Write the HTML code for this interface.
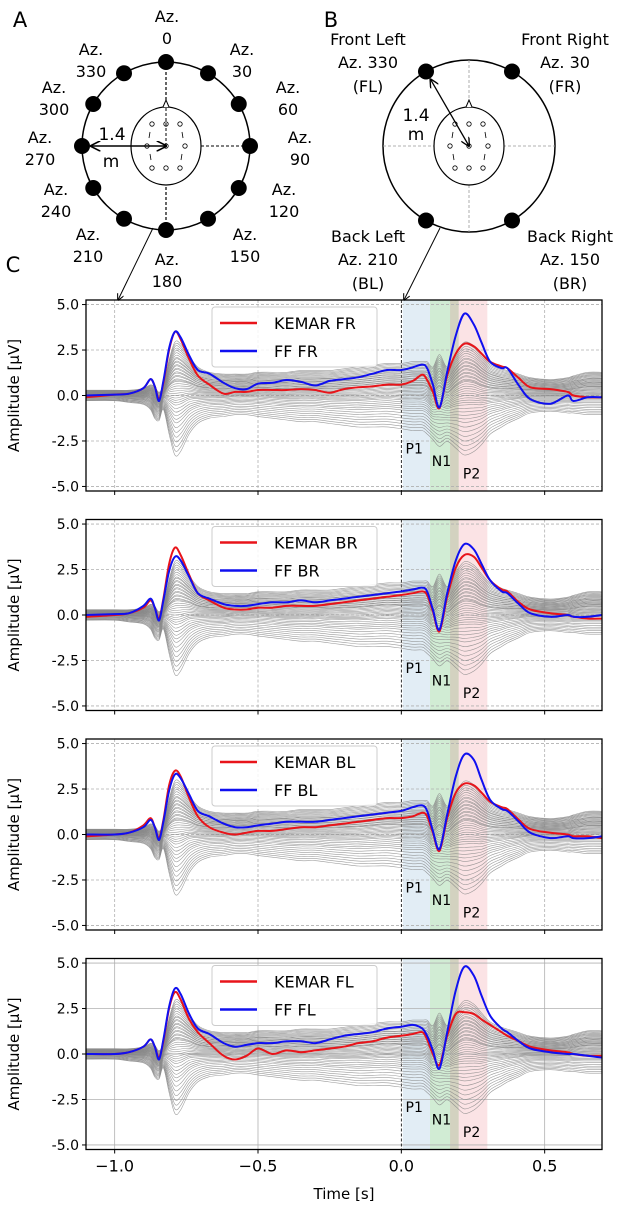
<!DOCTYPE html>
<html><head><meta charset="utf-8"><style>
html,body{margin:0;padding:0;background:#fff}
svg{display:block;font-family:"DejaVu Sans","Liberation Sans",sans-serif}
</style></head><body>
<svg id="fig" width="620" height="1212" viewBox="0 0 620 1212" xmlns="http://www.w3.org/2000/svg">
<defs>
<marker id="ah" viewBox="0 0 10 10" refX="9" refY="5" markerWidth="7" markerHeight="7" orient="auto-start-reverse"><path d="M0,0 L10,5 L0,10" fill="none" stroke="#000" stroke-width="1.5"/></marker>
</defs>
<g id="diagA"></g>
<g id="diagB"></g>
<g id="panels"></g>
</svg>
<script>
const T=[-1.1,-1.0,-0.95,-0.9,-0.875,-0.86,-0.845,-0.83,-0.81,-0.79,-0.77,-0.74,-0.71,-0.67,-0.62,-0.58,-0.54,-0.5,-0.45,-0.4,-0.35,-0.3,-0.25,-0.2,-0.15,-0.1,-0.05,0,0.04,0.073,0.09,0.11,0.133,0.16,0.19,0.22,0.253,0.28,0.31,0.35,0.37,0.41,0.45,0.52,0.58,0.6,0.65,0.7];
const panelLabels=["FR","BR","BL","FL"];
const blueFR=[0,0.05,0.1,0.4,0.9,0.5,-0.3,0.8,2.6,3.5,3.2,2.2,1.4,1.2,0.7,0.4,0.35,0.65,0.7,0.85,0.75,0.55,0.8,0.9,1.0,1.2,1.4,1.4,1.55,1.7,1.5,0.6,-0.65,1.3,3.3,4.5,3.9,2.9,1.85,1.5,1.5,0.55,-0.2,-0.45,0,-0.3,-0.1,-0.1];
const redFR=[-0.1,0.05,0.1,0.4,0.9,0.5,-0.2,0.7,2.5,3.5,3.1,2.0,1.1,0.6,0.1,0.2,0.2,0.3,0.3,0.3,0.35,0.3,0.15,0.35,0.45,0.5,0.6,0.6,0.8,1.15,0.85,0.2,-0.7,1.1,2.3,2.85,2.7,2.3,1.85,1.6,1.5,0.95,0.45,0.35,0.2,0,-0.1,-0.1];
const blueBR=[0,0.05,0.1,0.5,0.9,0.4,-0.3,0.8,2.4,3.2,3.0,2.1,1.2,0.9,0.6,0.5,0.5,0.6,0.7,0.7,0.8,0.7,0.8,0.9,1.0,1.1,1.2,1.3,1.4,1.5,1.3,0.3,-0.8,1.2,3.0,3.9,3.6,2.8,1.9,1.3,1.2,0.6,0.1,-0.1,0,-0.1,-0.1,0];
const redBR=[-0.1,0,0.1,0.4,0.8,0.4,-0.2,0.9,2.8,3.7,3.3,2.2,1.2,0.8,0.4,0.3,0.3,0.4,0.4,0.5,0.5,0.5,0.6,0.7,0.8,0.9,1.0,1.1,1.2,1.3,1.1,0.2,-0.9,1.0,2.6,3.3,3.2,2.6,1.9,1.4,1.3,0.7,0.3,0.1,0,-0.1,-0.2,-0.2];
const blueBL=[0,0,0.1,0.4,0.8,0.4,-0.3,0.7,2.4,3.3,3.1,2.2,1.3,1.0,0.6,0.4,0.4,0.5,0.6,0.7,0.7,0.7,0.8,0.9,1.0,1.1,1.2,1.3,1.5,1.6,1.3,0.2,-0.8,1.1,3.2,4.4,4.1,3.0,1.9,1.4,1.3,0.7,0.1,-0.2,-0.1,-0.2,-0.2,-0.1];
const redBL=[-0.1,0,0.1,0.5,0.9,0.4,-0.2,0.8,2.7,3.5,3.2,2.0,1.0,0.4,0.1,0,0.1,0.2,0.2,0.3,0.4,0.4,0.5,0.6,0.7,0.8,0.9,0.9,1.0,1.2,1.0,0.1,-0.9,0.9,2.3,2.8,2.7,2.3,1.8,1.5,1.4,0.8,0.3,0.1,0,-0.1,-0.1,-0.2];
const blueFL=[0,0,0.1,0.4,0.8,0.4,-0.3,0.8,2.6,3.6,3.3,2.2,1.4,1.1,0.6,0.4,0.5,0.6,0.6,0.7,0.7,0.6,0.8,1.0,1.1,1.2,1.4,1.5,1.6,1.4,1.0,0.2,-0.8,1.2,3.5,4.8,4.3,3.2,2.1,1.4,1.2,0.7,0.3,0.1,0,0,-0.1,-0.2];
const redFL=[0,0,0.1,0.4,0.8,0.4,-0.2,0.7,2.5,3.4,3.0,1.9,1.2,0.6,-0.1,-0.3,-0.1,0.3,0,0.2,0.1,0.2,0.3,0.4,0.6,0.7,0.9,1.0,1.1,1.2,0.8,0,-0.6,1.0,2.2,2.3,2.2,1.9,1.6,1.2,1.0,0.7,0.4,0.2,0.1,0,-0.1,-0.1];
const greyUpper=[0.3,0.3,0.3,0.4,0.6,0.5,0.2,0.6,2.0,3.0,2.9,2.2,1.6,1.3,1.2,1.2,1.2,1.3,1.3,1.3,1.4,1.4,1.4,1.5,1.6,1.7,1.8,1.8,1.9,1.9,1.9,1.6,2.3,1.6,2.4,3.0,2.8,2.3,1.8,1.5,1.4,1.2,1.0,0.9,1.0,1.1,1.3,1.3];
const greyLower=[-0.3,-0.3,-0.4,-0.5,-0.8,-1.3,-1.4,-0.8,-2.2,-3.4,-3.2,-2.2,-1.6,-1.3,-1.2,-1.1,-1.1,-1.2,-1.3,-1.4,-1.5,-1.5,-1.6,-1.7,-1.8,-1.8,-1.8,-1.9,-2.0,-2.0,-2.2,-2.5,-2.9,-2.6,-3.0,-3.4,-3.2,-2.8,-2.2,-1.8,-1.6,-1.3,-1.0,-0.9,-1.0,-1.0,-1.1,-1.1];
const channelWeights=[0.02,0.06,0.1,0.14,0.18,0.22,0.26,0.3,0.33,0.36,0.39,0.42,0.45,0.47,0.49,0.51,0.53,0.55,0.57,0.59,0.61,0.63,0.65,0.66,0.67,0.69,0.7,0.72,0.73,0.75,0.76,0.78,0.79,0.81,0.82,0.84,0.85,0.87,0.89,0.91,0.93,0.95,0.97,0.99];
const blueSeries=[blueFR,blueBR,blueBL,blueFL];
const redSeries=[redFR,redBR,redBL,redFL];
const yTicks=[5,2.5,0,-2.5,-5];
const yTickLabels=["5.0","2.5","0.0","-2.5","-5.0"];
const xTicks=[-1,-0.5,0,0.5];
const xTickLabels=["\u22121.0","\u22120.5","0.0","0.5"];
const components=[{name:"P1",t0:0.005,t1:0.1,lt:0.045,lv:-2.9,col:"rgba(31,119,180,0.13)"},{name:"N1",t0:0.1,t1:0.2,lt:0.14,lv:-3.6,col:"rgba(44,170,60,0.22)"},{name:"P2",t0:0.17,t1:0.3,lt:0.245,lv:-4.3,col:"rgba(230,60,70,0.14)"}];

const NS="http://www.w3.org/2000/svg";
function mk(tag,attrs,parent){const e=document.createElementNS(NS,tag);for(const k in attrs)e.setAttribute(k,attrs[k]);if(parent)parent.appendChild(e);return e;}
function txt(s,x,y,size,anchor,parent){const e=mk("text",{x:x,y:y,"font-size":size,"text-anchor":anchor||"middle",fill:"#000"},parent);e.textContent=s;return e;}
const X0=86,X1=602,TMIN=-1.1,TMAX=0.7;
const xs=t=>X0+(t-TMIN)/(TMAX-TMIN)*(X1-X0);
function smooth(pts){let d="M"+pts[0][0].toFixed(1)+","+pts[0][1].toFixed(1);for(let i=0;i<pts.length-1;i++){const p0=pts[i-1]||pts[i],p1=pts[i],p2=pts[i+1],p3=pts[i+2]||p2;const c1x=p1[0]+(p2[0]-p0[0])/6,c1y=p1[1]+(p2[1]-p0[1])/6,c2x=p2[0]-(p3[0]-p1[0])/6,c2y=p2[1]-(p3[1]-p1[1])/6;d+="C"+c1x.toFixed(1)+","+c1y.toFixed(1)+" "+c2x.toFixed(1)+","+c2y.toFixed(1)+" "+p2[0].toFixed(1)+","+p2[1].toFixed(1);}return d;}

const panels=document.getElementById("panels");
for(let p=0;p<4;p++){
  const top=300+p*219.5,h=191,YMIN=-5.25,YMAX=5.25;
  const ys=v=>top+(YMAX-v)/(YMAX-YMIN)*h;
  const g=mk("g",{},panels);
  
  
  const cid="clip"+p;const cp=mk("clipPath",{id:cid},g);mk("rect",{x:X0,y:top,width:X1-X0,height:h},cp);
  const inner=mk("g",{"clip-path":"url(#"+cid+")"},g);
  components.forEach(c=>{const r=mk("rect",{x:xs(c.t0),y:top,width:xs(c.t1)-xs(c.t0),height:h,fill:c.col},inner);
    
    });
  const dash=p==3?"none":"3,2";
  yTicks.forEach(v=>{mk("line",{x1:X0,x2:X1,y1:ys(v),y2:ys(v),stroke:"#b0b0b0","stroke-width":0.8,"stroke-dasharray":dash},inner);});
  xTicks.forEach(t=>{mk("line",{x1:xs(t),x2:xs(t),y1:top,y2:top+h,stroke:t===0?"#000":"#b0b0b0","stroke-width":0.8,"stroke-dasharray":t===0?"3,2":dash},inner);});
  channelWeights.forEach((w,ci)=>{const pts=T.map((t,i)=>[xs(t),ys(greyLower[i]+w*(greyUpper[i]-greyLower[i]))]);
    const l=mk("path",{d:smooth(pts),fill:"none",stroke:"#888","stroke-width":0.6,"stroke-opacity":0.85},inner);
    
    });
  const rp=mk("path",{d:smooth(T.map((t,i)=>[xs(t),ys(redSeries[p][i])])),fill:"none",stroke:"#e8141a","stroke-width":2},inner);
  
  
  const bp=mk("path",{d:smooth(T.map((t,i)=>[xs(t),ys(blueSeries[p][i])])),fill:"none",stroke:"#1010f0","stroke-width":2},inner);
  
  
  components.forEach(c=>{const e=txt(c.name,xs(c.lt),ys(c.lv)+5,14,"middle",g);
    
    });
  mk("rect",{x:X0,y:top,width:X1-X0,height:h,fill:"none",stroke:"#000","stroke-width":1.3},g);
  yTicks.forEach((v,i)=>{mk("line",{x1:X0-4,x2:X0,y1:ys(v),y2:ys(v),stroke:"#000","stroke-width":1},g);
    const e=txt(yTickLabels[i],X0-7,ys(v)+5,14,"end",g);
    
    });
  xTicks.forEach((t,i)=>{mk("line",{x1:xs(t),x2:xs(t),y1:top+h,y2:top+h+4,stroke:"#000","stroke-width":1},g);
    if(p==3){const e=txt(xTickLabels[i],xs(t),top+h+22,16,"middle",g);
      
      }});
  const yt=txt("Amplitude [\u00b5V]",0,0,15,"middle",g);yt.setAttribute("transform","translate(19,"+(top+h/2)+") rotate(-90)");
  
  
  const lg=mk("g",{},g);
  
  
  mk("rect",{x:212,y:top+7,width:165,height:60,rx:3,fill:"#fff","fill-opacity":0.85,stroke:"#ccc","stroke-width":1},lg);
  mk("line",{x1:220,x2:257,y1:top+23,y2:top+23,stroke:"#e8141a","stroke-width":2.5},lg);
  mk("line",{x1:220,x2:257,y1:top+51,y2:top+51,stroke:"#1010f0","stroke-width":2.5},lg);
  txt("KEMAR "+panelLabels[p],274,top+29,16,"start",lg);
  txt("FF "+panelLabels[p],274,top+57,16,"start",lg);
}
const xt=txt("Time [s]",344,1199,15,"middle",panels);



/* Diagram A */
const A=document.getElementById("diagA");
txt("A",20,27,21,"middle",A);
const cx=166,cy=146,R=84;
mk("circle",{cx:cx,cy:cy,r:R,fill:"none",stroke:"#000","stroke-width":1.5},A);
mk("line",{x1:cx,y1:cy-R,x2:cx,y2:cy+R,stroke:"#000","stroke-width":1.2,"stroke-dasharray":"3,2"},A);
mk("line",{x1:cx,y1:cy,x2:cx+R,y2:cy,stroke:"#000","stroke-width":1,"stroke-dasharray":"3,2"},A);
function head(g,hx,hy){mk("ellipse",{cx:hx,cy:hy,rx:35,ry:39,fill:"#fff",stroke:"#000","stroke-width":1.2},g);
  mk("path",{d:`M${hx-3},${hy-39} L${hx},${hy-46} L${hx+3},${hy-39}`,fill:"#fff",stroke:"#000","stroke-width":1},g);
  [[-14,-22],[0,-22],[14,-22],[-19,0],[0,0],[19,0],[-14,22],[0,22],[14,22]].forEach(o=>mk("circle",{cx:hx+o[0],cy:hy+o[1],r:2.2,fill:"#fff",stroke:"#000","stroke-width":0.8},g));
  [[-16,-11],[16,-11],[-16,11],[16,11]].forEach(o=>mk("line",{x1:hx+o[0],y1:hy+o[1]-3,x2:hx+o[0]+(o[0]*o[1]>0?-1:1),y2:hy+o[1]+3,stroke:"#000","stroke-width":0.8},g));}
head(A,cx,cy);
mk("line",{x1:cx,y1:cy,x2:cx,y2:cy-40,stroke:"#000","stroke-width":1,"stroke-dasharray":"3,2"},A);
for(let k=0;k<12;k++){const a=k*30*Math.PI/180;const d=mk("circle",{cx:cx+R*Math.sin(a),cy:cy-R*Math.cos(a),r:8,fill:"#000"},A);
  
  }
mk("line",{x1:cx,y1:cy,x2:cx-R+9,y2:cy,stroke:"#000","stroke-width":1.5,"marker-start":"url(#ah)","marker-end":"url(#ah)"},A);
txt("1.4",112,140,17,"middle",A);txt("m",111,167,17,"middle",A);
const aLabels=[["Az.","0",167,22,44],["Az.","330",91,55,77],["Az.","30",242,55,77],["Az.","300",54,93,115],["Az.","60",288,93,115],["Az.","270",40,143,165],["Az.","90",300,143,165],["Az.","240",56,195,217],["Az.","120",284,195,217],["Az.","210",88,240,262],["Az.","150",245,240,262],["Az.","180",167,265,287]];
aLabels.forEach(l=>{txt(l[0],l[2],l[3],16,"middle",A);txt(l[1],l[2],l[4],16,"middle",A);});
mk("line",{x1:153,y1:228,x2:118,y2:300,stroke:"#000","stroke-width":1,"marker-end":"url(#ah)"},A);
txt("C",13,272,21,"middle",A);

/* Diagram B */
const B=document.getElementById("diagB");
txt("B",331,27,21,"middle",B);
const bx=469,by=146,BR=86;
mk("circle",{cx:bx,cy:by,r:BR,fill:"none",stroke:"#000","stroke-width":1.5},B);
mk("line",{x1:bx-BR,y1:by,x2:bx+BR,y2:by,stroke:"#999","stroke-width":0.8,"stroke-dasharray":"3,2"},B);
mk("line",{x1:bx,y1:by-BR,x2:bx,y2:by+BR,stroke:"#999","stroke-width":0.8,"stroke-dasharray":"3,2"},B);
head(B,bx,by);
[[330,"fl"],[30,"fr"],[210,"bl"],[150,"br"]].forEach(s=>{const a=s[0]*Math.PI/180;const d=mk("circle",{cx:bx+BR*Math.sin(a),cy:by-BR*Math.cos(a),r:8,fill:"#000"},B);
  
  });
mk("line",{x1:bx,y1:by,x2:bx+(BR-9)*Math.sin(-Math.PI/6),y2:by-(BR-9)*Math.cos(Math.PI/6),stroke:"#000","stroke-width":1.3,"marker-start":"url(#ah)","marker-end":"url(#ah)"},B);
txt("1.4",416,121,17,"middle",B);txt("m",416,140,17,"middle",B);
[["Front Left","Az. 330","(FL)",368,45],["Front Right","Az. 30","(FR)",565,45],["Back Left","Az. 210","(BL)",368,242],["Back Right","Az. 150","(BR)",570,242]].forEach(l=>{txt(l[0],l[3],l[4],16,"middle",B);txt(l[1],l[3],l[4]+23,16,"middle",B);txt(l[2],l[3],l[4]+47,16,"middle",B);});
mk("line",{x1:440,y1:228,x2:404,y2:300,stroke:"#000","stroke-width":1,"marker-end":"url(#ah)"},B);
</script>
</body></html>
